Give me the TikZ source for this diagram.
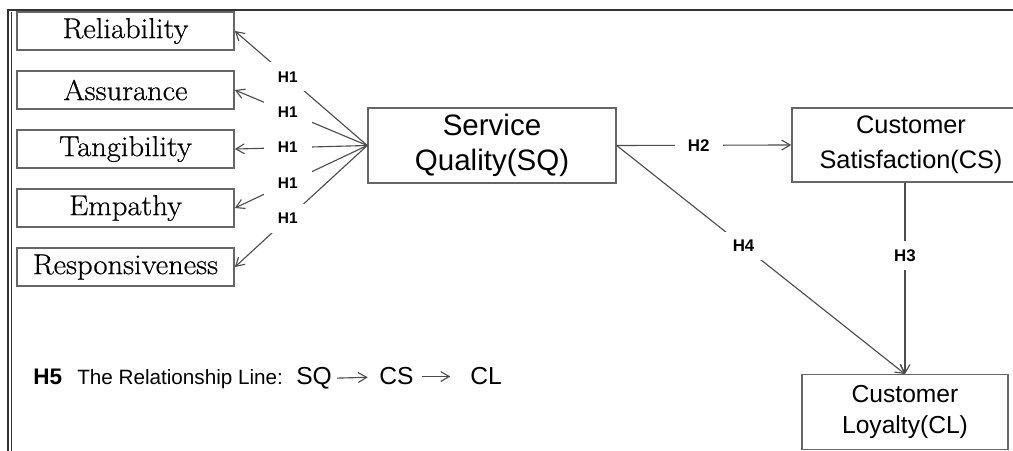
\documentclass[tikz,border=0pt]{standalone}
\usepackage{fontspec}
\setsansfont{Liberation Sans}
\newfontfamily\factorfont{Latin Modern Roman}[FakeBold=0.6,FakeStretch=1.06]
\usetikzlibrary{arrows.meta,positioning}

\begin{document}
\begin{tikzpicture}[
    x=0.025cm, y=-0.025cm,
    >={Straight Barb[length=6pt,width=7pt]},
    factor/.style={rectangle, draw=black!60, line width=1pt, minimum width=5.43cm, minimum height=0.95cm, inner sep=0pt, font=\factorfont\fontsize{20.5}{24}\selectfont},
    construct/.style={rectangle, draw=black!60, line width=1pt, align=center, inner sep=0pt, font=\sffamily\fontsize{18}{25}\selectfont},
    hlab/.style={fill=white, inner sep=0pt, minimum width=1.2cm, minimum height=0.72cm, font=\sffamily\bfseries\fontsize{#1}{#1}\selectfont},
    hlab/.default=11,
    link/.style={->, draw=black!70, line width=0.8pt},
    relword/.style={anchor=base west, inner sep=0pt, font=\sffamily\fontsize{17.5}{18}\selectfont}
]
\useasboundingbox (0,0) rectangle (1013,451);

\draw[black!80, line width=1.2pt] (8,451) -- (8,10) -- (1013,10);
\draw[black!80, line width=1pt] (11.5,451) -- (11.5,12.5);

\node[factor] (rel) at (125.5,31) {Reliability};
\node[factor, below=0.49cm of rel] (ass) {Assurance};
\node[factor, below=0.49cm of ass] (tan) {Tangibility};
\node[factor, below=0.49cm of tan] (emp) {Empathy};
\node[factor, below=0.49cm of emp] (res) {Responsiveness};

\node[construct, minimum width=6.2cm, minimum height=1.875cm, font=\sffamily\fontsize{21}{25}\selectfont] (sq) at (492,145.5) {Service\\Quality(SQ)};
\node[construct, minimum width=5.95cm, minimum height=1.85cm] (cs) at (911,145) {Customer\\Satisfaction(CS)};
\node[construct, minimum width=5.15cm, minimum height=1.86cm, font=\sffamily\fontsize{17.5}{22}\selectfont] (cl) at (905,412) {Customer\\Loyalty(CL)};

\foreach \f in {rel,ass,tan,emp,res} {
    \draw[link] (sq.west) -- node[hlab, pos=0.6] {H1} (\f.east);
}
\draw[link] (sq.east) -- node[hlab=12, pos=0.47] {H2} (cs.west);
\draw[link] (cs.south -| cl.north) -- node[hlab=12, pos=0.38] {H3} (cl.north);
\draw[link] (sq.east) -- node[hlab=12, pos=0.44] {H4} (cl.north);

\node[anchor=base west, inner sep=0pt, font=\sffamily\bfseries\fontsize{16}{16}\selectfont] (h5) at (33,385) {H5};
\node[anchor=base west, inner sep=0pt, font=\sffamily\fontsize{14.7}{16}\selectfont] (rline) at (77,385) {The Relationship Line:};
\node[relword] (sq5) at (296,385) {SQ};
\node[relword] (cs5) at (379,385) {CS};
\node[relword] (cl5) at (470,385) {CL};
\draw[link, shorten <=3.5pt, shorten >=8pt] (sq5) -- (cs5);
\draw[link, shorten <=5.7pt, shorten >=14pt] (cs5) -- (cl5);

\end{tikzpicture}
\end{document}
